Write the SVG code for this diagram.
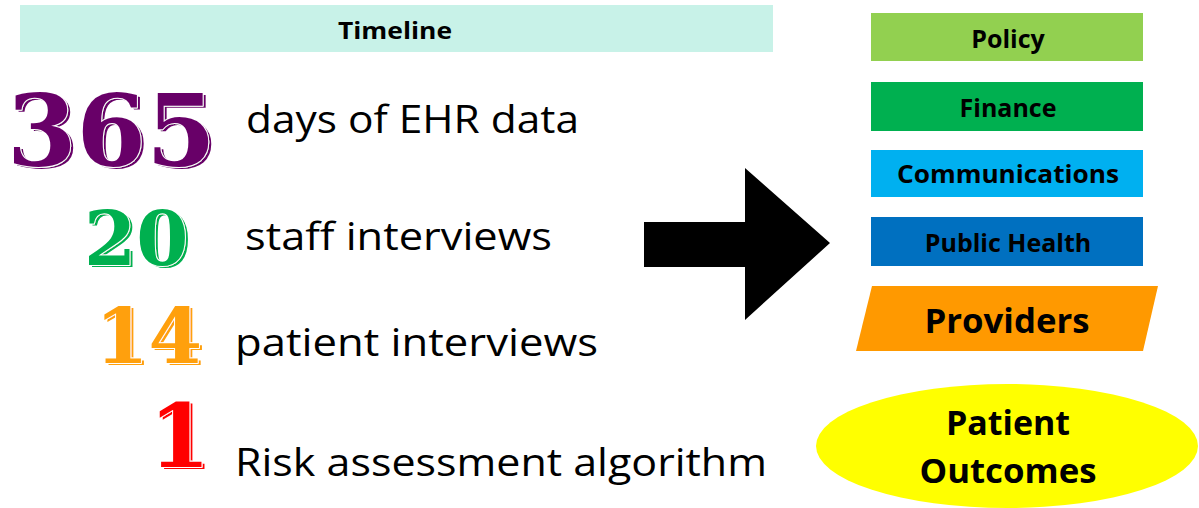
<svg xmlns="http://www.w3.org/2000/svg" width="1199" height="508" viewBox="0 0 1199 508">
<defs>
<filter id="sh" x="-0.1" y="-0.1" width="1.3" height="1.3">
<feOffset in="SourceGraphic" dx="3" dy="2" result="o"/>
<feMerge><feMergeNode in="o"/><feMergeNode in="SourceGraphic"/></feMerge>
</filter>
</defs>
<style>
.lbl{font-family:"Open Sans",Lato,"Liberation Sans",sans-serif;font-weight:bold;fill:#000;text-anchor:middle}
.body{font-family:"Open Sans",Lato,"Liberation Sans",sans-serif;fill:#000}
.num{font-family:"DejaVu Serif","Liberation Serif",serif;font-weight:bold;stroke:#fff;stroke-width:2;paint-order:stroke;stroke-linejoin:round;filter:url(#sh)}
</style>
<rect width="1199" height="508" fill="#fff"/>
<g id="timeline">
<rect x="20" y="5" width="753" height="47" fill="#c8f2e8"/>
<text class="lbl" x="395" y="39" font-size="24" textLength="114" lengthAdjust="spacingAndGlyphs">Timeline</text>
</g>
<g id="stat365">
<text class="num" x="7" y="166" font-size="100" fill="#680068">365</text>
<text class="body" x="246" y="133" font-size="38" textLength="333" lengthAdjust="spacingAndGlyphs">days of EHR data</text>
</g>
<g id="stat20">
<text class="num" x="84" y="265" font-size="75" fill="#00b050">20</text>
<text class="body" x="245" y="250" font-size="38" textLength="307" lengthAdjust="spacingAndGlyphs">staff interviews</text>
</g>
<g id="stat14">
<text class="num" x="95" y="363" font-size="77" fill="#ffa010">14</text>
<text class="body" x="235" y="356" font-size="38" textLength="363" lengthAdjust="spacingAndGlyphs">patient interviews</text>
</g>
<g id="stat1">
<text class="num" x="149" y="467" font-size="88" fill="#ff0000">1</text>
<text class="body" x="235" y="476" font-size="38" textLength="532" lengthAdjust="spacingAndGlyphs">Risk assessment algorithm</text>
</g>
<g id="connectors">
<polygon points="644,222 745,222 745,168 830,243 745,320 745,267 644,267" fill="#000"/>
</g>
<g id="policy">
<rect x="871" y="13" width="272" height="48" fill="#92d050"/>
<text class="lbl" x="1008" y="48" font-size="25">Policy</text>
</g>
<g id="finance">
<rect x="871" y="82" width="272" height="49" fill="#00b050"/>
<text class="lbl" x="1008" y="117" font-size="25">Finance</text>
</g>
<g id="communications">
<rect x="871" y="150" width="272" height="47" fill="#00b0f0"/>
<text class="lbl" x="1008" y="183" font-size="25" textLength="222" lengthAdjust="spacingAndGlyphs">Communications</text>
</g>
<g id="publichealth">
<rect x="871" y="217" width="272" height="49" fill="#0070c0"/>
<text class="lbl" x="1008" y="252" font-size="25">Public Health</text>
</g>
<g id="providers">
<polygon points="872,286 1158,286 1143,351 856,351" fill="#ff9900"/>
<text class="lbl" x="1007" y="333" font-size="34" textLength="165" lengthAdjust="spacingAndGlyphs">Providers</text>
</g>
<g id="outcomes">
<ellipse cx="1007" cy="446" rx="191" ry="62" fill="#ffff00"/>
<text class="lbl" x="1008" y="435" font-size="34">Patient</text>
<text class="lbl" x="1008" y="483" font-size="34" textLength="177" lengthAdjust="spacingAndGlyphs">Outcomes</text>
</g>
</svg>
